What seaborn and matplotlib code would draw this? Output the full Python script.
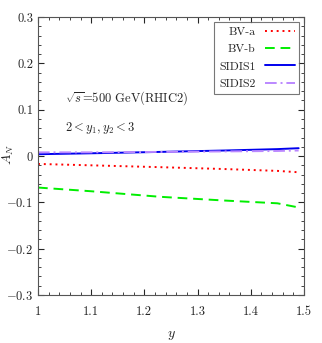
import matplotlib
matplotlib.use("Agg")
import matplotlib.pyplot as plt
import seaborn as sns
import pandas as pd
from matplotlib.ticker import MultipleLocator

# ── Data ─────────────────────────────────────────────────────────────────────
y_vals = [1.00, 1.10, 1.23, 1.35, 1.45, 1.49]
bv_a   = [-0.017, -0.020, -0.024, -0.028, -0.032, -0.035]
bv_b   = [-0.068, -0.076, -0.088, -0.096, -0.102, -0.111]
sidis1 = [0.004, 0.006, 0.009, 0.012, 0.015, 0.017]
sidis2 = [0.008, 0.008, 0.009, 0.010, 0.011, 0.012]

labels = ["BV-a", "BV-b", "SIDIS1", "SIDIS2"]
series = [bv_a, bv_b, sidis1, sidis2]

x_ticks = [1.0, 1.1, 1.2, 1.3, 1.4, 1.5]
x_tick_labels = ["1", "1.1", "1.2", "1.3", "1.4", "1.5"]
y_ticks = [-0.3, -0.2, -0.1, 0.0, 0.1, 0.2, 0.3]
y_tick_labels = ["$-0.3$", "$-0.2$", "$-0.1$", "0", "0.1", "0.2", "0.3"]

df = pd.concat(
    [pd.DataFrame({"y": y_vals, "AN": s, "model": lab}) for lab, s in zip(labels, series)],
    ignore_index=True,
)

# ── Style ────────────────────────────────────────────────────────────────────
sns.set_style("ticks")
plt.rcParams["font.family"] = ["cmr10", "DejaVu Serif"]
plt.rcParams["mathtext.fontset"] = "cm"
plt.rcParams["axes.formatter.use_mathtext"] = True

colors = {"BV-a": "#ff0000", "BV-b": "#00ee00", "SIDIS1": "#0000ee", "SIDIS2": "#bb88ff"}
dashes = {"BV-a": (1, 2), "BV-b": (5, 3), "SIDIS1": "", "SIDIS2": (6, 2, 1, 2)}

fig, ax = plt.subplots(figsize=(3.22, 3.43), dpi=100)
sns.lineplot(data=df, x="y", y="AN", hue="model", style="model",
             palette=colors, dashes=dashes, linewidth=1.4, ax=ax)

ax.set_xticks(x_ticks, x_tick_labels)
ax.set_yticks(y_ticks, y_tick_labels)
ax.set_xlim(1.0, 1.5)
ax.set_ylim(-0.3, 0.3)
ax.xaxis.set_minor_locator(MultipleLocator(0.02))
ax.yaxis.set_minor_locator(MultipleLocator(0.02))
ax.tick_params(which="both", direction="in", top=True, right=True, labelsize=9)
ax.tick_params(which="major", length=4)
ax.tick_params(which="minor", length=2)
ax.tick_params(axis="x", pad=8)
for s in ax.spines.values():
    s.set_color("#555555")

ax.set_xlabel("$y$", fontsize=10, labelpad=8)
ax.set_ylabel("$A_N$", fontsize=10)
ax.yaxis.set_label_coords(-0.082, 0.507)

ax.text(1.05, 0.125, r"$\sqrt{s}$=500 GeV(RHIC2)", fontsize=9, va="center")
ax.text(1.05, 0.06, r"$2<y_1,y_2<3$", fontsize=9, va="center")

leg = ax.legend(loc="upper right", markerfirst=False, fontsize=8.5, fancybox=False,
                handlelength=2.5, borderaxespad=0.4, labelspacing=0.6)
leg.get_frame().set_edgecolor("#555555")
leg.get_frame().set_linewidth(0.8)

fig.subplots_adjust(left=0.118, right=0.944, top=0.95, bottom=0.14)
fig.savefig("out.png", dpi=100)
